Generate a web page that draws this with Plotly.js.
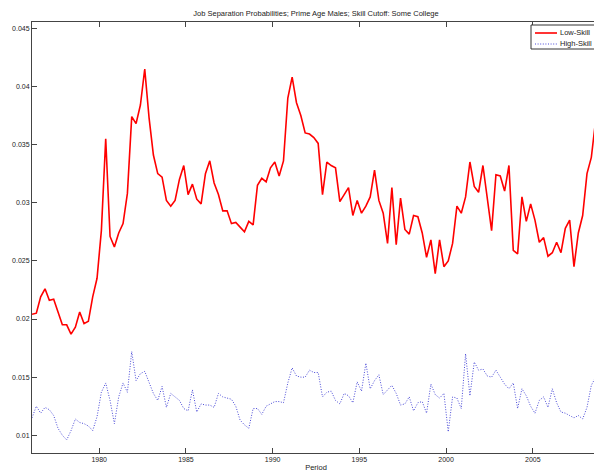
<!DOCTYPE html>
<html><head><meta charset="utf-8">
<script src="https://cdn.plot.ly/plotly-3.0.1.min.js"></script>
<style>html,body{margin:0;padding:0;overflow:hidden;background:#fff}#chart{width:600px;height:476px}</style>
</head><body><div id="chart"></div>
<script>
// Quarterly data, 1976Q1 onward (time stamp at mid-quarter)
const firstQuarter = 1976.125;
const lowSkill = [
0.0204,0.0205,0.0219,0.0226,0.0216,0.0217,0.0206,0.0195,0.0195,0.0187,
0.0193,0.0206,0.0196,0.0198,0.0219,0.0235,0.0276,0.0355,0.0271,0.0262,
0.0274,0.0282,0.0308,0.0374,0.0368,0.0384,0.0415,0.0373,0.0341,0.0325,
0.0322,0.0302,0.0297,0.0302,0.0320,0.0332,0.0307,0.0316,0.0303,0.0299,
0.0325,0.0336,0.0317,0.0307,0.0293,0.0293,0.0282,0.0283,0.0279,0.0275,
0.0284,0.0281,0.0315,0.0321,0.0318,0.0330,0.0335,0.0323,0.0336,0.0390,
0.0408,0.0386,0.0375,0.0360,0.0359,0.0356,0.0351,0.0307,0.0335,0.0332,
0.0330,0.0301,0.0307,0.0313,0.0289,0.0302,0.0291,0.0297,0.0305,0.0328,
0.0302,0.0291,0.0265,0.0313,0.0264,0.0304,0.0277,0.0273,0.0289,0.0288,
0.0274,0.0253,0.0268,0.0239,0.0268,0.0245,0.0250,0.0265,0.0297,0.0291,
0.0305,0.0335,0.0314,0.0309,0.0332,0.0305,0.0276,0.0324,0.0323,0.0310,
0.0332,0.0259,0.0256,0.0305,0.0284,0.0299,0.0285,0.0266,0.0270,0.0254,
0.0257,0.0266,0.0257,0.0278,0.0285,0.0245,0.0274,0.0289,0.0325,0.0339,
0.0371];
const highSkill = [
0.0115,0.0125,0.0119,0.0124,0.0122,0.0117,0.0106,0.0100,0.0096,0.0104,
0.0114,0.0111,0.0110,0.0108,0.0104,0.0116,0.0137,0.0145,0.0130,0.0110,
0.0133,0.0145,0.0137,0.0172,0.0147,0.0153,0.0155,0.0145,0.0136,0.0130,
0.0142,0.0124,0.0136,0.0133,0.0130,0.0123,0.0121,0.0139,0.0120,0.0127,
0.0126,0.0126,0.0124,0.0136,0.0133,0.0132,0.0131,0.0125,0.0113,0.0109,
0.0106,0.0123,0.0123,0.0118,0.0125,0.0127,0.0129,0.0129,0.0128,0.0145,
0.0158,0.0151,0.0150,0.0150,0.0156,0.0154,0.0154,0.0133,0.0137,0.0138,
0.0130,0.0127,0.0136,0.0134,0.0128,0.0146,0.0138,0.0162,0.0140,0.0147,
0.0152,0.0135,0.0139,0.0143,0.0136,0.0126,0.0127,0.0133,0.0121,0.0128,
0.0129,0.0119,0.0144,0.0135,0.0132,0.0136,0.0103,0.0133,0.0132,0.0123,
0.0170,0.0134,0.0163,0.0156,0.0157,0.0151,0.0150,0.0156,0.0150,0.0144,
0.0140,0.0145,0.0123,0.0140,0.0134,0.0125,0.0119,0.0130,0.0133,0.0124,
0.0140,0.0128,0.0120,0.0119,0.0117,0.0115,0.0117,0.0114,0.0124,0.0143,
0.0150];
const seriesNames = ['Low-Skill', 'High-Skill'];
const xTickVals = [1980, 1985, 1990, 1995, 2000, 2005];
const yTickVals = [0.01, 0.015, 0.02, 0.025, 0.03, 0.035, 0.04, 0.045];
const yTickText = ['0.01', '0.015', '0.02', '0.025', '0.03', '0.035', '0.04', '0.045'];
const chartTitle = 'Job Separation Probabilities; Prime Age Males; Skill Cutoff: Some College';
const xLabel = 'Period';

const period = lowSkill.map((_, i) => firstQuarter + i / 4);

const FONT = 'Liberation Sans, Arial, sans-serif';
const AX = '#444';
const red = '#ff0000';
const blue = '#4a4ad8';

const traces = [
  {x: period, y: lowSkill, name: seriesNames[0], type: 'scatter', mode: 'lines',
   line: {color: red, width: 1.6}},
  {x: period, y: highSkill, name: seriesNames[1], type: 'scatter', mode: 'lines',
   line: {color: blue, width: 1, dash: '1px,1.6px'}}
];

// plot area in pixels: left 32, right 600, top 22, bottom 453
const px = v => (v - 32) / 568;
const py = v => (453 - v) / 431;

const axisCommon = {
  showline: true, linecolor: AX, linewidth: 1, mirror: 'ticks',
  ticks: 'inside', ticklen: 5, tickcolor: AX, tickwidth: 1,
  showgrid: false, zeroline: false,
  tickfont: {family: FONT, size: 7, color: '#222'}
};

const layout = {
  width: 600, height: 476,
  margin: {l: 32, r: 0, t: 22, b: 23, pad: 0},
  paper_bgcolor: '#fff', plot_bgcolor: '#fff',
  showlegend: false,
  title: {text: chartTitle, font: {family: FONT, size: 7.5, color: '#222'},
          x: 0.5, xref: 'paper', xanchor: 'center', y: 1 - 13 / 476, yref: 'container', yanchor: 'middle'},
  xaxis: Object.assign({}, axisCommon, {
    range: [1976.125, 2008.875], tickmode: 'array', tickvals: xTickVals,
    ticktext: xTickVals.map(String),
    title: {text: xLabel, font: {family: FONT, size: 7.5, color: '#222'}, standoff: 2}
  }),
  yaxis: Object.assign({}, axisCommon, {
    range: [0.008477, 0.04554], tickmode: 'array', tickvals: yTickVals, ticktext: yTickText
  }),
  shapes: [
    {type: 'rect', xref: 'paper', yref: 'paper', x0: px(531), x1: px(599), y0: py(49), y1: py(25),
     line: {color: '#333', width: 1}, fillcolor: '#fff', layer: 'above'},
    {type: 'line', xref: 'paper', yref: 'paper', x0: px(535), x1: px(557), y0: py(33), y1: py(33),
     line: {color: red, width: 1.6}, layer: 'above'},
    {type: 'line', xref: 'paper', yref: 'paper', x0: px(535), x1: px(557), y0: py(44), y1: py(44),
     line: {color: blue, width: 1, dash: '1px,1.6px'}, layer: 'above'}
  ],
  annotations: [
    {xref: 'paper', yref: 'paper', x: px(558), y: py(33), xanchor: 'left', yanchor: 'middle',
     text: seriesNames[0], showarrow: false, font: {family: FONT, size: 7.5, color: '#222'}},
    {xref: 'paper', yref: 'paper', x: px(558), y: py(44), xanchor: 'left', yanchor: 'middle',
     text: seriesNames[1], showarrow: false, font: {family: FONT, size: 7.5, color: '#222'}}
  ]
};

Plotly.newPlot('chart', traces, layout, {staticPlot: true, displayModeBar: false});
</script></body></html>
